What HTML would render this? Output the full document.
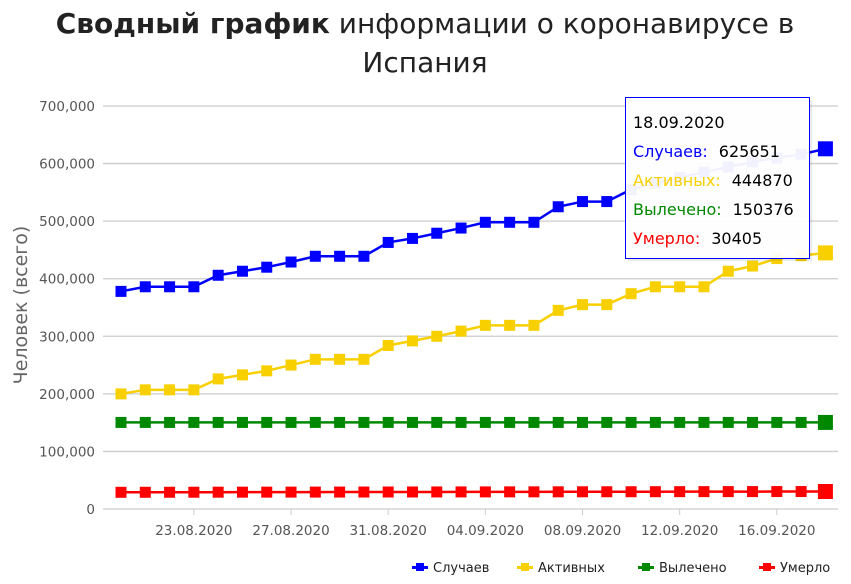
<!DOCTYPE html><html><head><meta charset="utf-8"><style>body{margin:0;background:#fff;font-family:"Liberation Sans","DejaVu Sans",sans-serif}</style></head><body>
<svg width="851" height="579" xmlns="http://www.w3.org/2000/svg" font-family="DejaVu Sans, Liberation Sans, sans-serif">
<text x="425" y="33" text-anchor="middle" font-size="28" fill="#222"><tspan font-weight="bold">Сводный график</tspan> информации о коронавирусе в</text>
<text x="425" y="72" text-anchor="middle" font-size="28" fill="#222">Испания</text>
<g id="grid"></g>
<text transform="translate(27,305) rotate(-90)" text-anchor="middle" font-size="19" fill="#666">Человек (всего)</text>
<g id="c"></g>
<g font-size="13">
<rect x="412" y="566" width="16" height="3" fill="#00f"/><rect x="416" y="563" width="8" height="8" fill="#00f"/><text x="433" y="572" fill="#222">Случаев</text>
<rect x="517" y="566" width="16" height="3" fill="#f8d000"/><rect x="521" y="563" width="8" height="8" fill="#f8d000"/><text x="538" y="572" fill="#222">Активных</text>
<rect x="638" y="566" width="16" height="3" fill="#080"/><rect x="642" y="563" width="8" height="8" fill="#080"/><text x="659" y="572" fill="#222">Вылечено</text>
<rect x="759" y="566" width="16" height="3" fill="#f00"/><rect x="763" y="563" width="8" height="8" fill="#f00"/><text x="780" y="572" fill="#222">Умерло</text>
</g>
<g id="tt">
<rect x="628" y="100" width="184" height="161" fill="#000" fill-opacity="0.08"/>
<rect x="625.5" y="97.5" width="184" height="161" fill="#fff" fill-opacity="0.95" stroke="#00f" stroke-width="1"/>
<g font-size="16">
<text x="633" y="128" fill="#000">18.09.2020</text>
<text x="633" y="157" fill="#00f">Случаев:<tspan fill="#000" dx="11">625651</tspan></text>
<text x="633" y="186" fill="#f8d000">Активных:<tspan fill="#000" dx="11">444870</tspan></text>
<text x="633" y="215" fill="#080">Вылечено:<tspan fill="#000" dx="11">150376</tspan></text>
<text x="633" y="244" fill="#f00">Умерло:<tspan fill="#000" dx="11">30405</tspan></text>
</g></g>
</svg>
<script>
const Y=v=>509-v*(403/700000),X=i=>121+i*24.29;
let g=document.getElementById('grid'),h='';
for(let k=0;k<=7;k++){let y=Y(k*100000);h+=`<line x1="103" x2="838" y1="${y}" y2="${y}" stroke="#ccc" stroke-width="1.3"/>`;
h+=`<text x="95" y="${y+5}" text-anchor="end" font-size="13.5" fill="#555">${k?(k*100)+',000':'0'}</text>`;}
const lbl=['23.08.2020','27.08.2020','31.08.2020','04.09.2020','08.09.2020','12.09.2020','16.09.2020'];
lbl.forEach((t,j)=>{let x=X(3+4*j);h+=`<line x1="${x}" x2="${x}" y1="509" y2="515" stroke="#ccc"/><text x="${x}" y="535" text-anchor="middle" font-size="13.5" fill="#555">${t}</text>`});
g.innerHTML=h;
const b=[378,386,386,386,406,413,420,429,439,439,439,463,470,479,488,498,498,498,525,534,534,555,566,576,585,594,603,610,616,625.65];
const a=[200,207,207,207,226,233,240,250,260,260,260,284,292,300,309,319,319,319,345,355,355,374,386,386,386,413,422,435,440,444.87];
const gr=b.map(_=>150.376),r=b.map((_,i)=>29+i*0.048);
let c='';
[[b,'#00f'],[a,'#f8d000'],[gr,'#080'],[r,'#f00']].forEach(([d,col])=>{
c+=`<polyline fill="none" stroke="${col}" stroke-width="2.5" points="${d.map((v,i)=>X(i)+','+Y(v*1000)).join(' ')}"/>`;
d.forEach((v,i)=>{let s=i==29?15:11;c+=`<rect x="${X(i)-s/2}" y="${Y(v*1000)-s/2}" width="${s}" height="${s}" fill="${col}"/>`});});
document.getElementById('c').innerHTML=c;
</script>
</body></html>
